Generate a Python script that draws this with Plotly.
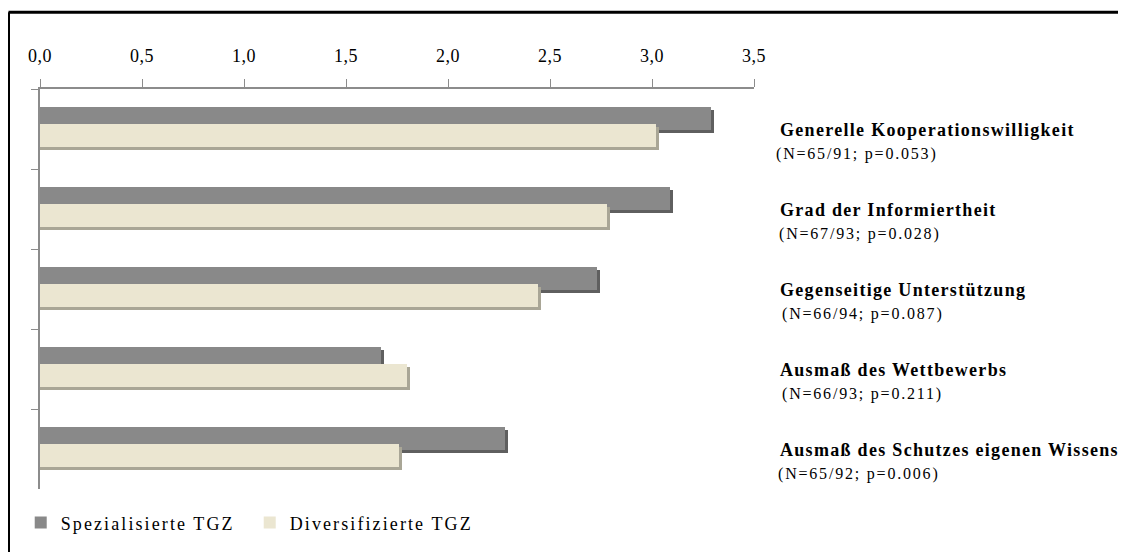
import plotly.graph_objects as go

# ---- data ----
categories = [
    "Generelle Kooperationswilligkeit",
    "Grad der Informiertheit",
    "Gegenseitige Unterstützung",
    "Ausmaß des Wettbewerbs",
    "Ausmaß des Schutzes eigenen Wissens",
]
stats = [
    "(N=65/91; p=0.053)",
    "(N=67/93; p=0.028)",
    "(N=66/94; p=0.087)",
    "(N=66/93; p=0.211)",
    "(N=65/92; p=0.006)",
]
spezialisiert = [3.29, 3.09, 2.73, 1.67, 2.28]
diversifiziert = [3.02, 2.78, 2.44, 1.80, 1.76]
series_names = ["Spezialisierte TGZ", "Diversifizierte TGZ"]
tick_values = [0, 0.5, 1.0, 1.5, 2.0, 2.5, 3.0, 3.5]
tick_labels = ["0,0", "0,5", "1,0", "1,5", "2,0", "2,5", "3,0", "3,5"]

# ---- style ----
FONT = "Liberation Serif"
AXIS = "#8c8c8c"
DARK, DARK_SH = "#898989", "#5f5f5f"
LIGHT, LIGHT_SH = "#ebe6d1", "#a9a696"
BAR_W = 0.287
SH_DX, SH_DY = 0.015, 0.037

# the page body has an 8px default margin on every side; the figure is sized
# so that it fits inside the window
FIG_W, FIG_H = 1110, 544
M_L, M_R, M_T, M_B = 32, 364, 81, 62
PW = FIG_W - M_L - M_R
PH = FIG_H - M_T - M_B


def spaced(t, ls):
    return f"<span style='letter-spacing:{ls}px'>{t}</span>"


fig = go.Figure()

specs = [
    (spezialisiert, DARK, DARK_SH, -0.274, series_names[0]),
    (diversifiziert, LIGHT, LIGHT_SH, -0.062, series_names[1]),
]
for vals, col, sh, off, name in specs:
    fig.add_trace(go.Bar(
        y=categories, x=[v + SH_DX for v in vals], orientation="h",
        offset=off + SH_DY, width=BAR_W, marker=dict(color=sh, line=dict(width=0)),
        showlegend=False, hoverinfo="skip",
    ))
    fig.add_trace(go.Bar(
        y=categories, x=vals, orientation="h", name=spaced(name, 2.1),
        offset=off, width=BAR_W, marker=dict(color=col, line=dict(width=0)),
    ))

# right-hand category labels
for cat, st, dx in zip(categories, stats, [-2, 1, 4, 4, 0]):
    fig.add_annotation(
        xref="paper", yref="y", x=1.0, y=cat, xanchor="left", yanchor="middle",
        xshift=24, yshift=-1, showarrow=False,
        text="<b>" + spaced(cat, 1.3) + "</b>",
        font=dict(family=FONT, size=18, color="black"),
    )
    fig.add_annotation(
        xref="paper", yref="y", x=1.0, y=cat, xanchor="left", yanchor="middle",
        xshift=22 + dx, yshift=-25, showarrow=False,
        text=spaced(st, 1.8),
        font=dict(family=FONT, size=16, color="black"),
    )

# outer frame: only its top and left edges are inside the picture
fx0 = (0.5 - M_L) / PW
fx1 = (FIG_W + 40 - M_L) / PW
fy0 = (M_T + PH - FIG_H - 40) / PH
fy1 = (M_T + PH - 4) / PH
for x0, y0, x1, y1 in [(fx0, fy1, fx1, fy1), (fx0, fy0, fx0, fy1)]:
    fig.add_shape(
        type="line", xref="paper", yref="paper", x0=x0, y0=y0, x1=x1, y1=y1,
        line=dict(color="black", width=3), layer="above",
    )

fig.update_layout(
    width=FIG_W, height=FIG_H, autosize=False,
    margin=dict(l=M_L, r=M_R, t=M_T, b=M_B),
    paper_bgcolor="white", plot_bgcolor="white",
    barmode="overlay", bargap=0,
    font=dict(family=FONT, color="black"),
    legend=dict(
        orientation="h", x=-0.027, xanchor="left", y=-0.082, yanchor="middle",
        font=dict(family=FONT, size=18, color="black"), bgcolor="rgba(0,0,0,0)",
        entrywidth=184, entrywidthmode="pixels",
    ),
    xaxis=dict(
        side="top", range=[0, 3.5], tickvals=tick_values,
        ticktext=[spaced(t, 0.5) for t in tick_labels],
        ticks="outside", ticklen=8, tickwidth=1, tickcolor=AXIS,
        showline=True, linecolor=AXIS, linewidth=2, showgrid=False, zeroline=False,
        tickfont=dict(family=FONT, size=18, color="black"), ticklabelstandoff=10,
    ),
    yaxis=dict(
        type="category", categoryorder="array", categoryarray=categories,
        range=[4.5, -0.5], showticklabels=False, ticks="outside",
        tickson="boundaries", ticklen=7, tickwidth=1, tickcolor=AXIS,
        showline=True, linecolor=AXIS, linewidth=2, showgrid=False, zeroline=False,
    ),
)

fig.write_html("out.html")
